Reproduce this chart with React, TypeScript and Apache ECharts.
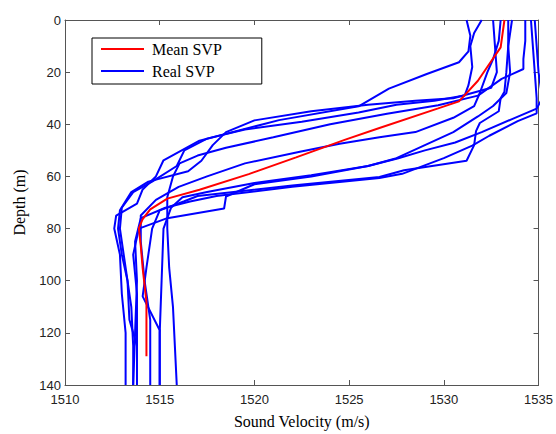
import React, { useEffect, useRef } from "react";
import * as echarts from "echarts";

// [sound velocity (m/s), depth (m)]
const meanSvp: number[][] = [
  [1533.2, 0], [1533.0, 10.5], [1532.5, 15.8], [1531.8, 23.3], [1530.8, 31.2], [1529.7, 33.9],
  [1526.6, 41.4], [1524.8, 45.9], [1522.2, 52.7], [1519.7, 59.1], [1517.1, 65.1], [1515.4, 68.5],
  [1514.5, 72.6], [1514.1, 76.4], [1513.9, 79.8], [1514.0, 86.6], [1514.1, 95.2], [1514.3, 108], [1514.3, 129],
];

const profileU1: number[][] = [
  [1531.2, 0], [1531.4, 6], [1531.3, 12], [1530.8, 16.2], [1529.1, 20.7], [1527.1, 26.3], [1525.5, 33.1],
  [1521.3, 38.4], [1517.1, 46.3], [1515.2, 53.8], [1514.8, 60], [1514.1, 65], [1513.8, 70.4], [1512.7, 75],
  [1512.6, 80], [1512.9, 90], [1513.0, 105], [1513.2, 120], [1513.2, 140],
];
const profileU2: number[][] = [
  [1532.0, 0], [1531.6, 5], [1531.4, 10], [1531.5, 18], [1531.3, 25], [1531.1, 29], [1529.5, 31],
  [1527.5, 32.5], [1525.5, 35.5], [1522.5, 39], [1519.5, 42], [1517.5, 45.5], [1516.3, 50], [1515.9, 56],
  [1514.6, 62], [1513.6, 66], [1513.0, 72], [1512.9, 80], [1513.2, 95], [1513.5, 110], [1513.6, 125], [1513.6, 140],
];
const profileU3: number[][] = [
  [1534.3, 0], [1534.3, 8], [1534.2, 15], [1534.2, 18.8], [1533.05, 22.6], [1531.8, 29], [1529.7, 32.7],
  [1527, 36], [1524, 40], [1521, 45], [1518.5, 49], [1517.0, 52], [1516.05, 55], [1515.7, 60], [1515.4, 68],
  [1515.4, 80], [1515.5, 95], [1515.7, 110], [1515.8, 125], [1515.9, 140],
];
const profileU4: number[][] = [
  [1532.6, 0], [1532.7, 10], [1532.8, 20], [1532.5, 26], [1530.5, 30], [1528.5, 31], [1526, 32.5],
  [1523, 35], [1520, 38.5], [1518.5, 43], [1517.8, 48], [1517.2, 54], [1516.5, 58], [1514.4, 62],
  [1513.5, 66], [1512.9, 73], [1512.8, 80], [1513.0, 90], [1513.3, 100], [1513.4, 115], [1513.8, 125],
];
const profileM1: number[][] = [
  [1533.0, 0], [1532.9, 8], [1532.6, 15], [1532.3, 20], [1531.9, 28], [1531.6, 33], [1530.5, 37.5],
  [1528.5, 43], [1526.6, 45], [1524.5, 47.5], [1522.4, 50.5], [1519.5, 55], [1517.5, 60], [1516, 64],
  [1514.8, 69], [1514.0, 75], [1514.0, 85], [1514.2, 100], [1514.5, 115], [1514.5, 140],
];
const profileL1: number[][] = [
  [1533.4, 0], [1533.4, 10], [1533.3, 20], [1533.2, 27.5], [1533.0, 30], [1532.9, 35], [1531.9, 39.5],
  [1531.7, 42.6], [1531.6, 48], [1531.2, 54], [1527.9, 57.6], [1526.6, 60.2], [1522, 63.5], [1517, 67.5],
  [1516.3, 69.5], [1515, 73], [1514.6, 80], [1514.3, 95], [1514.1, 106], [1515.0, 119], [1515.0, 140],
];
const profileL2: number[][] = [
  [1534.6, 0], [1534.7, 10], [1534.8, 20], [1534.9, 30], [1534.9, 35.8], [1533.9, 38.8], [1532.4, 44.4],
  [1531.5, 48.2], [1530, 53], [1527.8, 59], [1526.6, 60.6], [1522, 64], [1518, 67.5], [1516.6, 69.6],
  [1515.3, 72], [1514.0, 76], [1513.7, 85], [1513.8, 100], [1513.7, 120], [1513.6, 140],
];
const profileL3: number[][] = [
  [1533.6, 0], [1533.4, 10], [1533.5, 20], [1533.3, 28], [1532.6, 33], [1531.8, 37], [1530.5, 43],
  [1529, 48], [1527.5, 53], [1526, 56], [1523, 60], [1520, 63], [1518.5, 67.7], [1518.4, 72.3],
  [1515.4, 76], [1513.9, 80], [1513.6, 90], [1513.8, 105], [1513.8, 120], [1513.8, 140],
];
const profileL4: number[][] = [
  [1534.8, 0], [1534.9, 10], [1535.0, 20], [1535.2, 30], [1534.9, 34], [1533.6, 38], [1532, 43],
  [1530.6, 47], [1529, 50], [1527.6, 53], [1526, 56], [1523, 59.5], [1520, 62.5], [1517.5, 66],
  [1516.2, 68], [1515.6, 72], [1515.2, 80], [1515.1, 100], [1515.0, 120], [1515.0, 140],
];

const realProfiles = [profileU1, profileU2, profileU3, profileU4, profileM1, profileL1, profileL2, profileL3, profileL4];

const xTicks = { min: 1510, max: 1535, interval: 5 };
const yTicks = { min: 0, max: 140, interval: 20 };

export default function App() {
  const ref = useRef<HTMLDivElement>(null);
  useEffect(() => {
    document.body.style.margin = "0";
    if (!ref.current) return;
    const chart = echarts.init(ref.current, null, { renderer: "svg" });
    const axisCommon = {
      type: "value" as const,
      axisLine: { show: true, onZero: false, lineStyle: { color: "#555", width: 1 } },
      axisTick: { show: true, inside: true, length: 5, lineStyle: { color: "#555" } },
      splitLine: { show: false },
    };
    const labelStyle = {
      color: "#222",
      fontFamily: "Liberation Sans, Arial, sans-serif",
      fontSize: 13,
      formatter: (v: number) => String(v),
    };
    const serif = "Liberation Serif, Times New Roman, serif";
    const series: any[] = realProfiles.map((p) => ({
      name: "Real SVP",
      type: "line",
      data: p,
      symbol: "none",
      smooth: false,
      lineStyle: { color: "#0000ff", width: 2 },
      itemStyle: { color: "#0000ff" },
    }));
    series.push({
      name: "Mean SVP",
      type: "line",
      data: meanSvp,
      symbol: "none",
      lineStyle: { color: "#ff0000", width: 2 },
      itemStyle: { color: "#ff0000" },
    });
    chart.setOption({
      animation: false,
      backgroundColor: "#ffffff",
      grid: { left: 65, right: 16, top: 20, bottom: 42 },
      legend: {
        data: ["Mean SVP", "Real SVP"],
        orient: "vertical",
        left: 92,
        top: 38,
        icon: "rect",
        itemWidth: 43,
        itemHeight: 2,
        itemGap: 6,
        padding: [3, 40, 5, 9],
        borderColor: "#000",
        borderWidth: 1,
        backgroundColor: "#fff",
        textStyle: { fontFamily: serif, fontSize: 16, lineHeight: 16, color: "#000", padding: [0, 0, 0, 3] },
        selectedMode: false,
      },
      xAxis: [
        {
          ...axisCommon,
          ...xTicks,
          position: "bottom",
          name: "Sound Velocity (m/s)",
          nameLocation: "middle",
          nameGap: 28,
          nameTextStyle: { fontFamily: serif, fontSize: 16, color: "#000" },
          axisLabel: { ...labelStyle, margin: 8 },
        },
        {
          ...axisCommon,
          ...xTicks,
          position: "top",
          axisLabel: { show: false },
        },
      ],
      yAxis: [
        {
          ...axisCommon,
          ...yTicks,
          inverse: true,
          position: "left",
          name: "Depth (m)",
          nameLocation: "middle",
          nameGap: 38,
          nameRotate: 90,
          nameTextStyle: { fontFamily: serif, fontSize: 16, color: "#000" },
          axisLabel: { ...labelStyle, margin: 4 },
        },
        {
          ...axisCommon,
          ...yTicks,
          inverse: true,
          position: "right",
          axisLabel: { show: false },
        },
      ],
      series,
    });
    return () => chart.dispose();
  }, []);
  return <div ref={ref} style={{ width: 556, height: 434 }} />;
}
